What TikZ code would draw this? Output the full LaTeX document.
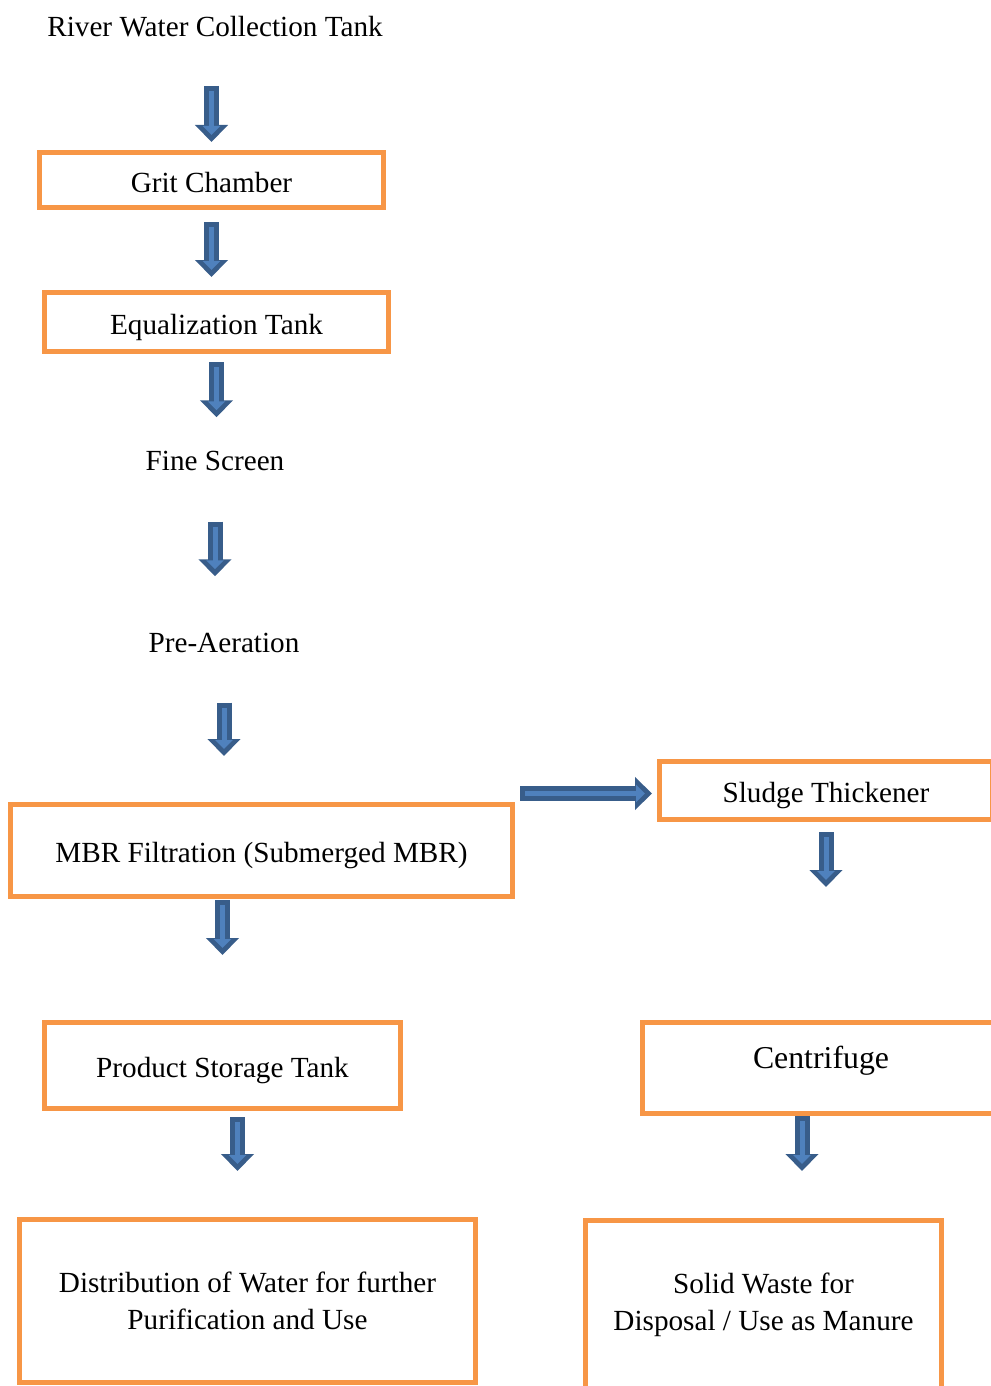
\documentclass[tikz,border=0pt]{standalone}
\usepackage{fontspec}
\setmainfont{Liberation Serif}
\usetikzlibrary{arrows.meta}
\definecolor{boxorange}{HTML}{F79646}
\definecolor{flowdark}{HTML}{385D8A}
\definecolor{flowlight}{HTML}{4F81BD}
\tikzset{
  stage/.style={draw=boxorange, line width=2.5pt, inner sep=2pt, align=center},
  oneline/.style={text height=12.5pt, text depth=0.3pt},
  plain/.style={inner sep=2pt, anchor=base},
  flow/.style 2 args={
    preaction={draw=flowdark, line width=7.5pt, shorten <=#1, shorten >=#2,
      -{Triangle[length=8.5pt,width=16pt]}},
    draw=flowlight, line width=2.5pt, shorten <=#1+2.5pt, shorten >=#2+3.5pt,
    -{Triangle[length=4.5pt,width=8.5pt]}},
}
\begin{document}
\begin{tikzpicture}[x=0.5pt,y=-0.5pt,font=\fontsize{14.6pt}{18.3pt}\selectfont]
\useasboundingbox (0,0) rectangle (990,1386);
% treatment line
\node[plain] (river) at (215,37) {River Water Collection Tank};
\node[stage, oneline, minimum width=172pt, minimum height=27.5pt] (grit) at (211.5,180) {Grit Chamber};
\node[stage, oneline, minimum width=172pt, minimum height=29.5pt] (equal) at (216.5,322) {Equalization Tank};
\node[plain] (fine) at (215,470) {Fine Screen};
\node[plain] (preaer) at (224,652) {Pre-Aeration};
\node[stage, oneline, minimum width=251pt, minimum height=46pt] (mbr) at (261.5,850.5) {MBR Filtration (Submerged MBR)};
\node[stage, oneline, minimum width=178pt, minimum height=43pt] (store) at (222.5,1065.5) {Product Storage Tank};
\node[stage, minimum width=228pt, minimum height=81.5pt] (distrib) at (247.5,1301) {Distribution of Water for further\\Purification and Use};
% sludge line
\node[stage, oneline, minimum width=166.5pt, minimum height=29pt] (thick) at (826,790.5) {Sludge Thickener};
\node[stage, minimum width=178.5pt, minimum height=45.5pt, text depth=10.5pt,
  font=\fontsize{15.9pt}{19pt}\selectfont] (centri) at (821,1068) {Centrifuge};
\node[stage, minimum width=178pt, minimum height=84.5pt] (solid) at (763.5,1305) {Solid Waste for\\Disposal / Use as Manure};
\draw[flow={22pt}{4pt}] (river.south -| grit.north) -- (grit.north);
\draw[flow={6pt}{6.5pt}] (grit.south) -- (grit.south |- equal.north);
\draw[flow={4pt}{14.5pt}] (equal.south) -- (equal.south |- fine.north);
\draw[flow={23.5pt}{26pt}] (fine.south) -- (fine.south |- preaer.north);
\draw[flow={23pt}{23pt}] (preaer.south) -- (preaer.south |- mbr.north);
\draw[flow={0.5pt}{32.5pt}] (store.north |- mbr.south) -- (store.north);
\draw[flow={2.5pt}{2.5pt}] ([yshift=-1.5pt]mbr.north east |- thick.west) -- ([yshift=-1.5pt]thick.west);
\draw[flow={5pt}{66.5pt}] (thick.south) -- (thick.south |- centri.north);
\draw[flow={3pt}{23pt}] ([xshift=7.5pt]store.south) -- ([xshift=7.5pt]store.south |- distrib.north);
\draw[flow={0pt}{23.5pt}] ([xshift=-9.5pt]centri.south) -- ([xshift=-9.5pt]centri.south |- solid.north);
\end{tikzpicture}
\end{document}
